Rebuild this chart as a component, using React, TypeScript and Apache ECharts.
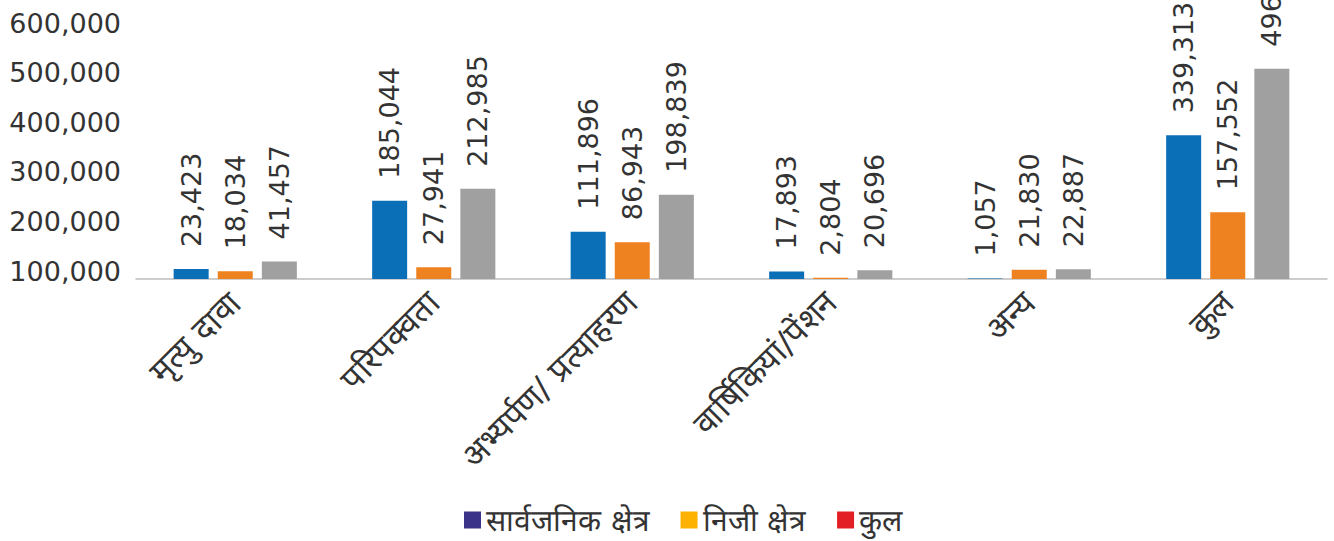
import React, { useEffect, useRef } from "react";
import * as echarts from "echarts";

// Claim categories
const categories = [
  "मृत्यु दावा",
  "परिपक्वता",
  "अभ्यर्पण/ प्रत्याहरण",
  "वार्षिकियां/पेंशन",
  "अन्य",
  "कुल",
];

// Series names
const seriesNames = ["सार्वजनिक क्षेत्र", "निजी क्षेत्र", "कुल"];

// Values per category
const publicSector = [23423, 185044, 111896, 17893, 1057, 339313];
const privateSector = [18034, 27941, 86943, 2804, 21830, 157552];
const totals = [41457, 212985, 198839, 20696, 22887, 496865];

// Bar and legend colours
const barColors = ["#0B6FB8", "#EF8220", "#A0A0A0"];
const legendColors = ["#3A3387", "#FDB100", "#E31E24"];

// Value-axis scale
const valueMin = 0;
const valueMax = 600000;
const tickLabelMin = 100000;
const tickLabelMax = 600000;
const tickStep = 100000;

const fmt = (v: number) => v.toLocaleString("en-US");

export default function App() {
  const ref = useRef<HTMLDivElement>(null);

  useEffect(() => {
    if (!ref.current) return;
    const chart = echarts.init(ref.current, null, { renderer: "svg" });
    const textColor = "#333333";
    const latinFont = "DejaVu Sans";

    const seriesData = [publicSector, privateSector, totals];

    chart.setOption({
      animation: false,
      backgroundColor: "#ffffff",
      textStyle: { fontFamily: latinFont, color: textColor },
      legend: {
        left: 459,
        top: 500,
        itemWidth: 17,
        itemHeight: 17,
        itemGap: 31,
        icon: "rect",
        textStyle: { fontSize: 30, color: textColor, fontFamily: latinFont },
        data: seriesNames.map((n, i) => ({
          name: n,
          itemStyle: { color: legendColors[i] },
        })),
      },
      grid: [
        { left: 136, right: 7, top: 25, bottom: 262 },
        { left: 136, right: 7, top: 23, bottom: 270 },
      ],
      xAxis: [
        {
          type: "category",
          gridIndex: 0,
          data: categories,
          axisLine: { lineStyle: { color: "#BDBDBD", width: 1.5 } },
          axisTick: { show: false },
          axisLabel: {
            rotate: 45,
            interval: 0,
            fontSize: 33,
            color: textColor,
            margin: 18,
          },
        },
        {
          type: "category",
          gridIndex: 1,
          data: [""],
          show: false,
        },
      ],
      yAxis: [
        {
          type: "value",
          gridIndex: 0,
          min: valueMin,
          max: valueMax,
          show: false,
          splitLine: { show: false },
        },
        {
          type: "value",
          gridIndex: 1,
          min: tickLabelMin,
          max: tickLabelMax,
          interval: tickStep,
          axisLine: { show: false },
          axisTick: { show: false },
          splitLine: { show: false },
          axisLabel: {
            fontSize: 27,
            color: textColor,
            margin: 15,
            formatter: (v: number) => fmt(v),
          },
        },
      ],
      series: seriesData.map((d, i) => ({
        name: seriesNames[i],
        type: "bar",
        xAxisIndex: 0,
        yAxisIndex: 0,
        data: d,
        barWidth: 35,
        barGap: "26%",
        itemStyle: { color: barColors[i] },
        label: {
          show: true,
          position: "top",
          rotate: 90,
          align: "left",
          verticalAlign: "middle",
          distance: 22,
          fontSize: 27,
          color: textColor,
          fontFamily: latinFont,
          formatter: (p: any) => fmt(p.value),
        },
      })),
    });

    return () => chart.dispose();
  }, []);

  return (
    <div
      ref={ref}
      style={{ position: "fixed", left: 0, top: 0, width: 1334, height: 541 }}
    />
  );
}
